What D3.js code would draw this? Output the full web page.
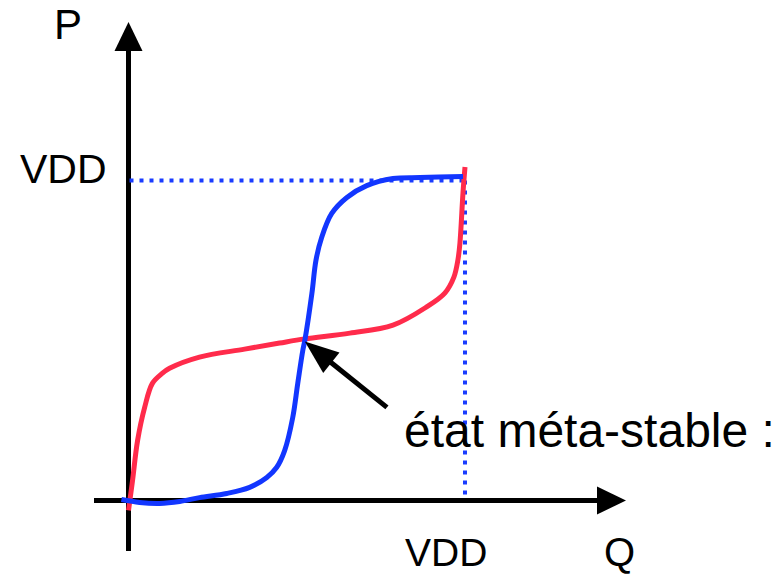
<!DOCTYPE html>
<html>
<head>
<meta charset="utf-8">
<script src="https://cdn.jsdelivr.net/npm/d3@7"></script>
<style>
  html, body { margin: 0; padding: 0; background: #fff; }
  svg { display: block; }
  text { font-family: "Liberation Sans", Arial, sans-serif; fill: #000; }
</style>
</head>
<body>
<svg id="chart" width="782" height="574"></svg>
<script>
// Transfer curves of two cross-coupled inverters (normalised to VDD)
// Blue: P as a function of Q
const blueQ = [-0.021, 0.033, 0.092, 0.152, 0.211, 0.292, 0.360, 0.411, 0.440, 0.464, 0.488, 0.503, 0.518, 0.524, 0.545, 0.557, 0.574, 0.604, 0.649, 0.708, 0.786, 0.866, 0.994];
const blueP = [0.003, -0.006, -0.009, -0.003, 0.009, 0.022, 0.041, 0.072, 0.103, 0.156, 0.259, 0.366, 0.469, 0.500, 0.647, 0.750, 0.822, 0.897, 0.947, 0.984, 1.006, 1.009, 1.0125];
// Red: Q as a function of P (mirrored characteristic)
const redQ = [0.000, 0.012, 0.027, 0.048, 0.071, 0.100, 0.122, 0.211, 0.345, 0.449, 0.524, 0.658, 0.786, 0.886, 0.940, 0.967, 0.979, 0.985, 0.994, 1.000];
const redP = [-0.031, 0.0625, 0.1875, 0.291, 0.366, 0.397, 0.413, 0.448, 0.473, 0.492, 0.505, 0.523, 0.548, 0.605, 0.648, 0.698, 0.752, 0.805, 0.961, 1.042];

// Metastable point and the tail of its pointer
const metaPoint = { q: 0.524, p: 0.497 };
const pointerTail = { q: 0.768, p: 0.291 };

const axisLabels = { y: "P", x: "Q" };
const levelLabel = "VDD";
const noteLabel = "état méta-stable :";

const svg = d3.select("#chart");

const x = d3.scaleLinear().domain([0, 1]).range([128.5, 465]);
const y = d3.scaleLinear().domain([0, 1]).range([500.5, 180.5]);

const blueColor = "#1236ff";
const redColor = "#ff2b4b";

// Axes with filled arrowheads
svg.append("line")
  .attr("x1", x(0)).attr("y1", 551).attr("x2", x(0)).attr("y2", 48)
  .attr("stroke", "#000").attr("stroke-width", 5);
svg.append("path")
  .attr("d", `M${x(0)},22 L${x(0) - 14},51 L${x(0) + 14},51 Z`)
  .attr("fill", "#000");

svg.append("line")
  .attr("x1", 94).attr("y1", y(0)).attr("x2", 599).attr("y2", y(0))
  .attr("stroke", "#000").attr("stroke-width", 5);
svg.append("path")
  .attr("d", `M626,${y(0)} L597,${y(0) - 14} L597,${y(0) + 14} Z`)
  .attr("fill", "#000");

// VDD reference lines
const dotted = svg.append("g")
  .attr("stroke", "#1a3cff").attr("stroke-width", 4)
  .attr("stroke-dasharray", "4,6").attr("fill", "none");
dotted.append("line")
  .attr("x1", x(0) + 1).attr("y1", y(1)).attr("x2", x(1)).attr("y2", y(1));
dotted.append("line")
  .attr("x1", x(1)).attr("y1", y(1)).attr("x2", x(1)).attr("y2", y(0));

const line = d3.line()
  .x(d => x(d[0])).y(d => y(d[1]))
  .curve(d3.curveCatmullRom.alpha(0.5));

const blue = blueQ.map((q, i) => [q, blueP[i]]);
const red = redQ.map((q, i) => [q, redP[i]]);

svg.append("path").datum(red)
  .attr("d", line).attr("fill", "none")
  .attr("stroke", redColor).attr("stroke-width", 5)
  .attr("stroke-linecap", "butt");
svg.append("path").datum(blue)
  .attr("d", line).attr("fill", "none")
  .attr("stroke", blueColor).attr("stroke-width", 5)
  .attr("stroke-linecap", "butt");

// Pointer to the metastable point
const tipX = x(metaPoint.q), tipY = y(metaPoint.p);
const tailX = x(pointerTail.q), tailY = y(pointerTail.p);
const ang = Math.atan2(tailY - tipY, tailX - tipX);
const headLen = 34, headHalf = 13;
const bx = tipX + headLen * Math.cos(ang), by = tipY + headLen * Math.sin(ang);
const px = -Math.sin(ang), py = Math.cos(ang);
svg.append("line")
  .attr("x1", tailX).attr("y1", tailY)
  .attr("x2", bx - 2 * Math.cos(ang)).attr("y2", by - 2 * Math.sin(ang))
  .attr("stroke", "#000").attr("stroke-width", 5);
svg.append("path")
  .attr("d", `M${tipX},${tipY} L${bx + headHalf * px},${by + headHalf * py} L${bx - headHalf * px},${by - headHalf * py} Z`)
  .attr("fill", "#000");

// Labels
svg.append("text").attr("x", 54).attr("y", 39)
  .attr("font-size", 42).text(axisLabels.y);
svg.append("text").attr("x", 604).attr("y", 566)
  .attr("font-size", 40).text(axisLabels.x);
svg.append("text").attr("x", 20).attr("y", 183)
  .attr("font-size", 41).text(levelLabel);
svg.append("text").attr("x", 405).attr("y", 566)
  .attr("font-size", 39).text(levelLabel);
svg.append("text").attr("x", 404).attr("y", 447)
  .attr("font-size", 48).text(noteLabel);
</script>
</body>
</html>
